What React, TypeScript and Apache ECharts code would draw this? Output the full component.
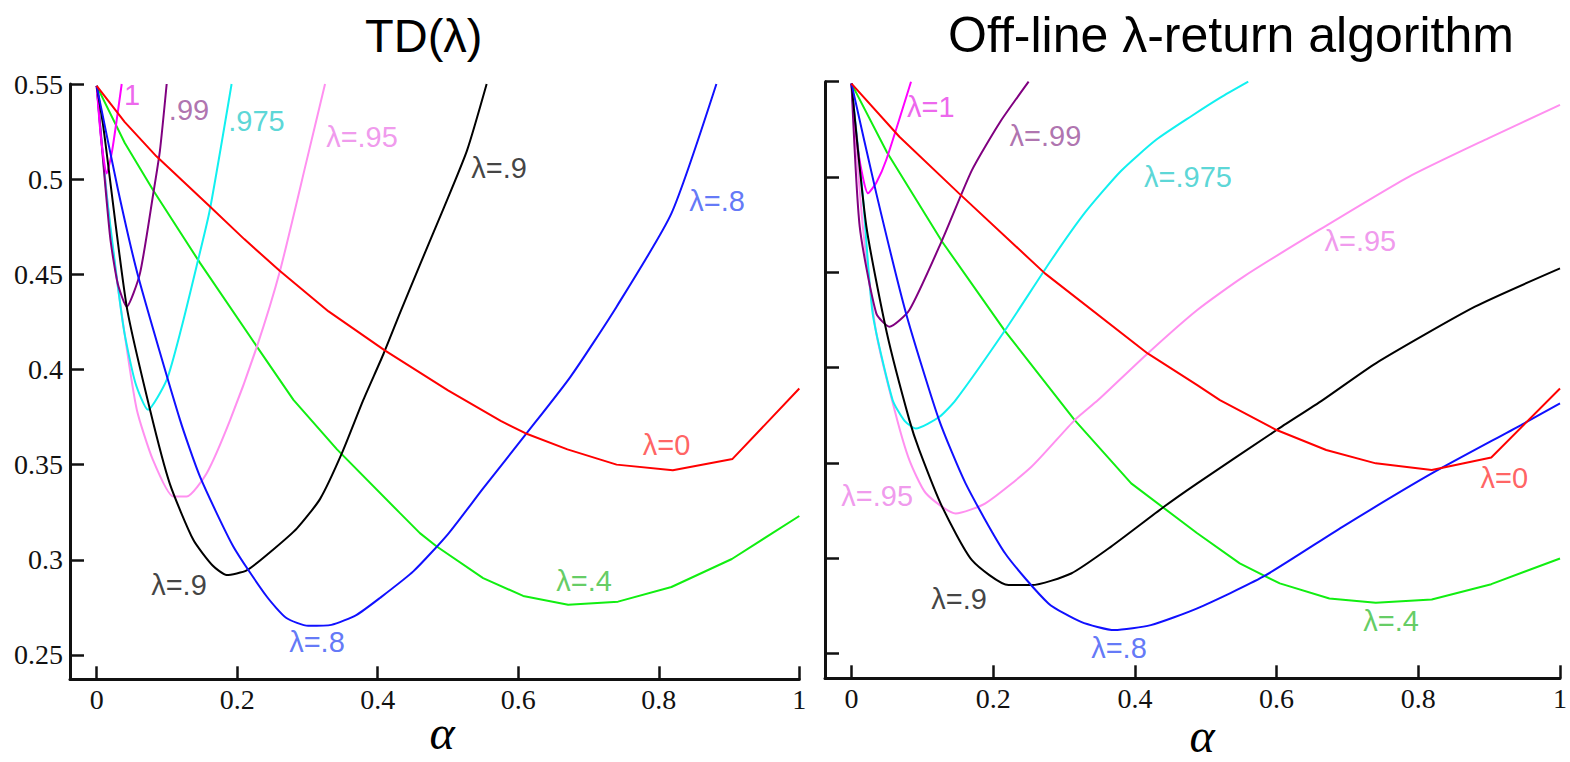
import React, { useEffect, useRef } from "react";
import * as echarts from "echarts";

// ---------- tick values ----------
const xTicks = [0, 0.2, 0.4, 0.6, 0.8, 1];
const yTicks = [0.25, 0.3, 0.35, 0.4, 0.45, 0.5, 0.55];

// ---------- TD(lambda) curves (alpha, RMS error) ----------
const tdAlpha0 = [0, 0.04, 0.085, 0.16, 0.21, 0.26, 0.33, 0.41, 0.5, 0.575, 0.61, 0.67, 0.74, 0.82, 0.905, 1.0];
const tdErr0 = [0.549, 0.53, 0.512, 0.486, 0.4685, 0.452, 0.4305, 0.41, 0.389, 0.373, 0.3665, 0.358, 0.35, 0.347, 0.353, 0.39];

const tdAlpha04 = [0, 0.04, 0.0806, 0.147, 0.228, 0.28, 0.342, 0.4317, 0.46, 0.484, 0.55, 0.607, 0.671, 0.742, 0.818, 0.904, 1.0];
const tdErr04 = [0.549, 0.519, 0.494, 0.456, 0.412, 0.384, 0.358, 0.3245, 0.314, 0.307, 0.2904, 0.281, 0.2764, 0.278, 0.2857, 0.3004, 0.323];

const tdAlpha08 = [0, 0.03, 0.0592, 0.1186, 0.147, 0.1944, 0.242, 0.27, 0.301, 0.334, 0.37, 0.403, 0.4506, 0.5, 0.55, 0.612, 0.674, 0.74, 0.818, 0.882];
const tdErr08 = [0.549, 0.495, 0.4487, 0.3735, 0.3437, 0.307, 0.2807, 0.2694, 0.2653, 0.2658, 0.2711, 0.2799, 0.2939, 0.3135, 0.3375, 0.3665, 0.396, 0.433, 0.482, 0.55];

const tdAlpha09 = [0, 0.0094, 0.0427, 0.0759, 0.104, 0.1375, 0.165, 0.185, 0.2135, 0.251, 0.285, 0.318, 0.349, 0.3795, 0.408, 0.432, 0.46, 0.493, 0.527, 0.555];
const tdErr09 = [0.549, 0.5276, 0.433, 0.3788, 0.34, 0.3105, 0.297, 0.292, 0.2944, 0.3053, 0.3165, 0.332, 0.356, 0.384, 0.408, 0.43, 0.455, 0.484, 0.515, 0.55];

const tdAlpha095 = [0, 0.019, 0.04, 0.057, 0.08, 0.109, 0.128, 0.1566, 0.19, 0.228, 0.261, 0.299, 0.325];
const tdErr095 = [0.549, 0.475, 0.418, 0.379, 0.3525, 0.3332, 0.3332, 0.3455, 0.3735, 0.412, 0.452, 0.51, 0.55];

const tdAlpha0975 = [0, 0.014, 0.038, 0.055, 0.073, 0.0996, 0.12, 0.142, 0.161, 0.192];
const tdErr0975 = [0.549, 0.4926, 0.4225, 0.393, 0.3788, 0.3945, 0.421, 0.454, 0.4838, 0.55];

const tdAlpha099 = [0, 0.019, 0.03, 0.0427, 0.0616, 0.0806, 0.09, 0.0996];
const tdErr099 = [0.549, 0.47, 0.445, 0.433, 0.4505, 0.4926, 0.515, 0.55];

const tdAlpha1 = [0, 0.006, 0.0142, 0.022, 0.0356];
const tdErr1 = [0.549, 0.522, 0.503, 0.515, 0.55];

// ---------- Off-line lambda-return curves ----------
const olAlpha0 = [0, 0.0676, 0.1517, 0.273, 0.418, 0.488, 0.52, 0.6, 0.67, 0.74, 0.819, 0.903, 1.0];
const olErr0 = [0.549, 0.5211, 0.4914, 0.4494, 0.4074, 0.3908, 0.3829, 0.3672, 0.3567, 0.3497, 0.3462, 0.3528, 0.389];

const olAlpha04 = [0, 0.05, 0.128, 0.217, 0.315, 0.3948, 0.488, 0.548, 0.6045, 0.6745, 0.74, 0.819, 0.903, 1.0];
const olErr04 = [0.549, 0.513, 0.466, 0.419, 0.3724, 0.3392, 0.313, 0.2972, 0.2867, 0.2788, 0.2765, 0.2783, 0.2863, 0.2998];

const olAlpha08 = [0, 0.035, 0.077, 0.1237, 0.161, 0.217, 0.278, 0.324, 0.371, 0.4224, 0.488, 0.581, 0.693, 0.819, 0.945, 1.0];
const olErr08 = [0.549, 0.4914, 0.4284, 0.3724, 0.3392, 0.3024, 0.2762, 0.2665, 0.2622, 0.2648, 0.2736, 0.2902, 0.3164, 0.3444, 0.3698, 0.3812];

const olAlpha09 = [0, 0.021, 0.05, 0.0817, 0.0957, 0.128, 0.17, 0.2217, 0.2543, 0.31, 0.366, 0.441, 0.488, 0.6, 0.665, 0.74, 0.88, 1.0];
const olErr09 = [0.549, 0.474, 0.418, 0.3724, 0.3567, 0.3269, 0.2989, 0.2858, 0.2858, 0.2919, 0.3059, 0.3269, 0.3392, 0.3672, 0.3829, 0.4022, 0.4319, 0.452];

const olAlpha095 = [0, 0.016, 0.035, 0.062, 0.0817, 0.105, 0.147, 0.189, 0.254, 0.315, 0.348, 0.418, 0.488, 0.553, 0.66, 0.7865, 0.8986, 1.0];
const olErr095 = [0.549, 0.474, 0.418, 0.376, 0.3514, 0.334, 0.3234, 0.3287, 0.3479, 0.3724, 0.3829, 0.4074, 0.4302, 0.4476, 0.4722, 0.5001, 0.5203, 0.5378];

const olAlpha0975 = [0, 0.016, 0.03, 0.058, 0.075, 0.091, 0.1237, 0.147, 0.217, 0.282, 0.33, 0.38, 0.43, 0.48, 0.52, 0.56];
const olErr0975 = [0.549, 0.49, 0.428, 0.383, 0.372, 0.368, 0.374, 0.3829, 0.4197, 0.4564, 0.4815, 0.503, 0.5195, 0.532, 0.5415, 0.55];

const olAlpha099 = [0, 0.0116, 0.035, 0.0536, 0.0817, 0.128, 0.17, 0.21, 0.25];
const olErr099 = [0.549, 0.4739, 0.4284, 0.4214, 0.4302, 0.4669, 0.5036, 0.529, 0.55];

const olAlpha1 = [0, 0.01, 0.0233, 0.035, 0.049, 0.084];
const olErr1 = [0.549, 0.512, 0.4914, 0.497, 0.5089, 0.55];

// ---------- curve labels (text, alpha, error) ----------
const tdLabelTexts = ["1", ".99", ".975", "λ=.95", "λ=.9", "λ=.8", "λ=0", "λ=.4", "λ=.9", "λ=.8"];
const tdLabelAlpha = [0.0502, 0.1314, 0.2274, 0.3776, 0.5726, 0.8829, 0.811, 0.6936, 0.1171, 0.3135];
const tdLabelErr = [0.5442, 0.5363, 0.5306, 0.5219, 0.5056, 0.4883, 0.3603, 0.2891, 0.2867, 0.257];
const tdLabelKeys = ["l1", "l99", "l975", "l95", "l9", "l8", "l0", "l4", "l9", "l8"];

const olLabelTexts = ["λ=1", "λ=.99", "λ=.975", "λ=.95", "λ=.95", "λ=.9", "λ=.8", "λ=.4", "λ=0"];
const olLabelAlpha = [0.1119, 0.2738, 0.475, 0.7182, 0.0362, 0.1518, 0.3775, 0.7617, 0.9215];
const olLabelErr = [0.5365, 0.5215, 0.5, 0.4666, 0.3328, 0.2787, 0.253, 0.2672, 0.3422];
const olLabelKeys = ["l1", "l99", "l975", "l95", "l95", "l9", "l8", "l4", "l0"];

const lineColors: Record<string, string> = {
  l0: "#ff0000",
  l4: "#11ee11",
  l8: "#1010ff",
  l9: "#000000",
  l95: "#ff90f0",
  l975: "#11f0f0",
  l99: "#800080",
  l1: "#ff00ff",
};
const labelColors: Record<string, string> = {
  l0: "#ff3a3a",
  l4: "#3cbf3c",
  l8: "#3b55f5",
  l9: "#111111",
  l95: "#ec7fe8",
  l975: "#30cccc",
  l99: "#9a4f9a",
  l1: "#e83ee8",
};
const smoothness: Record<string, number> = {
  l0: 0,
  l4: 0,
  l8: 0.2,
  l9: 0.2,
  l95: 0.2,
  l975: 0.2,
  l99: 0.2,
  l1: 0.2,
};

const pair = (xs: number[], ys: number[]) => xs.map((x, i) => [x, ys[i]]);

const tdCurves: [string, number[], number[]][] = [
  ["l4", tdAlpha04, tdErr04],
  ["l95", tdAlpha095, tdErr095],
  ["l975", tdAlpha0975, tdErr0975],
  ["l99", tdAlpha099, tdErr099],
  ["l1", tdAlpha1, tdErr1],
  ["l9", tdAlpha09, tdErr09],
  ["l8", tdAlpha08, tdErr08],
  ["l0", tdAlpha0, tdErr0],
];
const olCurves: [string, number[], number[]][] = [
  ["l4", olAlpha04, olErr04],
  ["l95", olAlpha095, olErr095],
  ["l975", olAlpha0975, olErr0975],
  ["l99", olAlpha099, olErr099],
  ["l1", olAlpha1, olErr1],
  ["l9", olAlpha09, olErr09],
  ["l8", olAlpha08, olErr08],
  ["l0", olAlpha0, olErr0],
];

const fmt = (v: number) => String(Number(v.toFixed(2)));

export default function App() {
  const ref = useRef<HTMLDivElement>(null);
  useEffect(() => {
    const chart = echarts.init(ref.current!, null, { renderer: "svg" });

    const axisColor = "#111";
    const xAxisCfg = (gridIndex: number, min: number) => ({
      type: "value",
      gridIndex,
      min,
      max: 1,
      axisLine: { show: true, onZero: false, lineStyle: { color: axisColor, width: 3 } },
      axisTick: { show: true, inside: true, length: 13, customValues: xTicks, lineStyle: { color: axisColor, width: 2.5 } },
      axisLabel: {
        show: true,
        customValues: xTicks,
        formatter: (v: number) => fmt(v),
        margin: 6,
        fontFamily: "Liberation Serif",
        fontSize: 28,
        color: "#111",
      },
      splitLine: { show: false },
    });
    const yAxisCfg = (gridIndex: number, min: number, showLabel: boolean) => ({
      type: "value",
      gridIndex,
      min,
      max: 0.55,
      axisLine: { show: true, onZero: false, lineStyle: { color: axisColor, width: 3 } },
      axisTick: { show: true, inside: true, length: 14, customValues: yTicks, lineStyle: { color: axisColor, width: 2.5 } },
      axisLabel: {
        show: showLabel,
        customValues: yTicks,
        formatter: (v: number) => fmt(v),
        margin: 7,
        fontFamily: "Liberation Serif",
        fontSize: 28,
        color: "#111",
      },
      splitLine: { show: false },
    });

    const lineSeries = (curves: [string, number[], number[]][], idx: number) =>
      curves.map(([key, xs, ys]) => ({
        type: "line",
        xAxisIndex: idx,
        yAxisIndex: idx,
        data: pair(xs, ys),
        showSymbol: false,
        symbol: "none",
        smooth: smoothness[key] > 0 ? smoothness[key] : false,
        silent: true,
        lineStyle: { color: lineColors[key], width: 2 },
        z: 2,
      }));

    const labelSeries = (texts: string[], xs: number[], ys: number[], keys: string[], idx: number) => ({
      type: "scatter",
      xAxisIndex: idx,
      yAxisIndex: idx,
      symbolSize: 1,
      silent: true,
      itemStyle: { color: "rgba(0,0,0,0)" },
      z: 5,
      label: {
        show: true,
        position: "inside",
        fontFamily: "Liberation Sans",
        fontSize: 29,
      },
      data: texts.map((t, i) => ({
        value: [xs[i], ys[i]],
        label: { formatter: t, color: labelColors[keys[i]] },
      })),
    });

    const option = {
      animation: false,
      backgroundColor: "#ffffff",
      grid: [
        { left: 70, top: 84, width: 729.3, height: 595.3, containLabel: false },
        { left: 825, top: 81.7, width: 740, height: 596.6, containLabel: false },
      ],
      xAxis: [xAxisCfg(0, -0.038), xAxisCfg(1, -0.0374)],
      yAxis: [yAxisCfg(0, 0.2372, true), yAxisCfg(1, 0.2369, false)],
      series: [
        ...lineSeries(tdCurves, 0),
        ...lineSeries(olCurves, 1),
        labelSeries(tdLabelTexts, tdLabelAlpha, tdLabelErr, tdLabelKeys, 0),
        labelSeries(olLabelTexts, olLabelAlpha, olLabelErr, olLabelKeys, 1),
      ],
      graphic: [
        {
          type: "text",
          x: 365,
          y: 35,
          style: {
            text: "TD(λ)",
            fontFamily: "Liberation Sans",
            fontSize: 47,
            fill: "#000",
            align: "left",
            verticalAlign: "middle",
          },
        },
        {
          type: "text",
          x: 948,
          y: 35,
          style: {
            text: "Off-line λ-return algorithm",
            fontFamily: "Liberation Sans",
            fontSize: 50,
            fill: "#000",
            align: "left",
            verticalAlign: "middle",
          },
        },
        {
          type: "text",
          x: 442,
          y: 732,
          style: {
            text: "α",
            fontFamily: "Liberation Serif",
            fontStyle: "italic",
            fontSize: 48,
            fill: "#000",
            align: "center",
            verticalAlign: "middle",
          },
        },
        {
          type: "text",
          x: 1202,
          y: 735,
          style: {
            text: "α",
            fontFamily: "Liberation Serif",
            fontStyle: "italic",
            fontSize: 48,
            fill: "#000",
            align: "center",
            verticalAlign: "middle",
          },
        },
      ],
    };

    chart.setOption(option as any);
    return () => chart.dispose();
  }, []);

  return (
    <div
      ref={ref}
      style={{ position: "absolute", left: 0, top: 0, width: 1570, height: 762, background: "#fff" }}
    />
  );
}
